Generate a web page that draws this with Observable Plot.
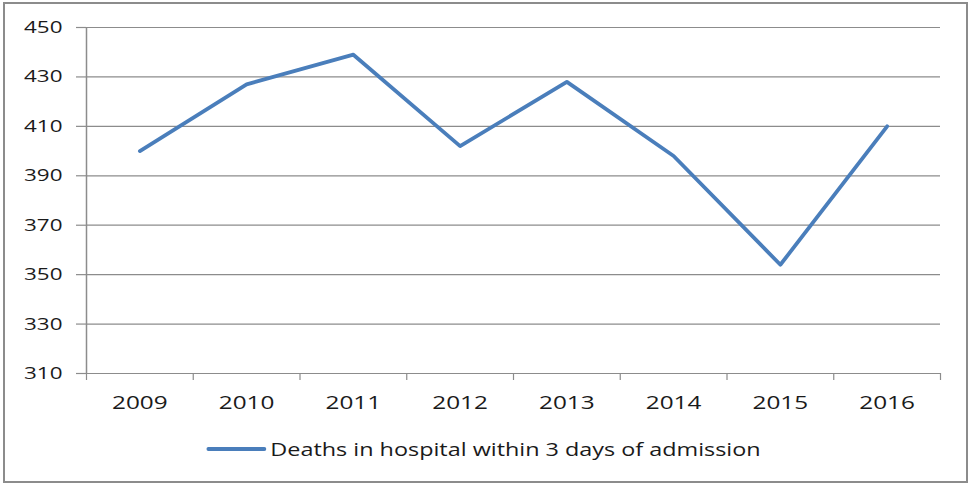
<!DOCTYPE html>
<html>
<head>
<meta charset="utf-8">
<script src="https://cdn.jsdelivr.net/npm/d3@7"></script>
<script src="https://cdn.jsdelivr.net/npm/@observablehq/plot@0.6"></script>
<style>
  html, body { margin: 0; padding: 0; background: #fff; }
  body { width: 969px; height: 483px; position: relative; overflow: hidden; font-family: "Open Sans", sans-serif; }
  #frame { position: absolute; left: 3px; top: 2px; width: 961px; height: 477px; border: 2px solid #8c8c8c; pointer-events: none; }
  #chart { position: absolute; left: 0; top: 0; }
  #legend { position: absolute; left: 0; top: 420px; }
</style>
</head>
<body>
<div id="chart"></div>
<div id="legend"></div>
<div id="frame"></div>
<script>
const years = ["2009", "2010", "2011", "2012", "2013", "2014", "2015", "2016"];
const deaths = [400, 427, 439, 402, 428, 398, 354, 410];
const yTicks = [310, 330, 350, 370, 390, 410, 430, 450];
const seriesName = "Deaths in hospital within 3 days of admission";
const lineColor = "#4a7ebb";

const data = years.map((yr, i) => ({i, year: yr, value: deaths[i]}));
const centers = years.map((_, i) => i);
const bounds = d3.range(-0.5, years.length, 1);

const plot = Plot.plot({
  width: 969,
  height: 420,
  marginTop: 27,
  marginBottom: 47,
  marginLeft: 86,
  marginRight: 29,
  style: {fontFamily: "Open Sans, sans-serif", color: "#1a1a1a", background: "transparent"},
  x: {type: "linear", domain: [-0.5, years.length - 0.5]},
  y: {domain: [310, 450]},
  marks: [
    Plot.gridY(yTicks, {stroke: "#8c8c8c", strokeOpacity: 1, strokeWidth: 1.2}),
    Plot.axisY(yTicks, {tickSize: 10, tickPadding: 14, stroke: "#8c8c8c", strokeWidth: 1.2, fontSize: 17, label: null, fill: "#1a1a1a"}),
    Plot.ruleX([-0.5], {stroke: "#8c8c8c", strokeWidth: 1.5}),
    Plot.axisX(bounds, {tickSize: 7, tickFormat: () => "", stroke: "#8c8c8c", strokeWidth: 1.2, label: null}),
    Plot.axisX(centers, {tickSize: 0, tickPadding: 22, tickFormat: (d) => years[d], fontSize: 19, label: null, fill: "#1a1a1a"}),
    Plot.line(data, {x: "i", y: "value", stroke: lineColor, strokeWidth: 3.8, strokeLinejoin: "round", strokeLinecap: "round"})
  ]
});
document.getElementById("chart").appendChild(plot);

// the reference's lettering is horizontally stretched: widen the glyphs to match
function stretch(selection, factor) {
  selection.each(function() {
    const w = this.getComputedTextLength();
    if (w > 0) {
      this.setAttribute("textLength", (w * factor).toFixed(1));
      this.setAttribute("lengthAdjust", "spacingAndGlyphs");
    }
  });
}
stretch(d3.select(plot).selectAll('g[aria-label="y-axis tick label"] text'), 1.32);
stretch(d3.select(plot).selectAll('g[aria-label="x-axis tick label"] text'), 1.28);

// legend
const lsvg = d3.select("#legend").append("svg").attr("width", 969).attr("height", 60);
const swatchW = 56, gap = 6;
const txt = lsvg.append("text")
  .attr("y", 29).attr("dy", "0.35em")
  .attr("font-family", "Open Sans, sans-serif").attr("font-size", 19).attr("fill", "#1a1a1a")
  .text(seriesName);
const tw = txt.node().getComputedTextLength() * 1.23;
txt.attr("textLength", tw.toFixed(1)).attr("lengthAdjust", "spacingAndGlyphs");
const start = (969 - (swatchW + gap + tw)) / 2;
lsvg.insert("line", "text").attr("x1", start).attr("x2", start + swatchW).attr("y1", 29).attr("y2", 29)
  .attr("stroke", lineColor).attr("stroke-width", 3.8).attr("stroke-linecap", "round");
txt.attr("x", start + swatchW + gap);
</script>
</body>
</html>
